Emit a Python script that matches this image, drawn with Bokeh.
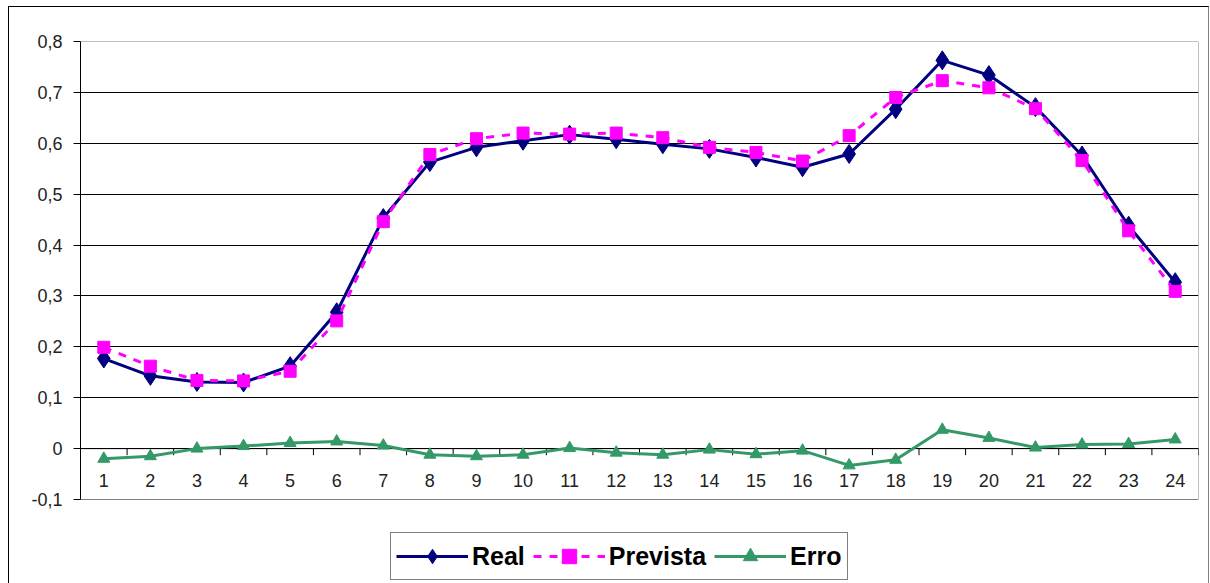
from bokeh.plotting import figure
from bokeh.models import (Range1d, FixedTicker, Legend, LegendItem,
                          ColumnDataSource)
from bokeh.core.properties import value
from bokeh.embed import file_html
from bokeh.resources import INLINE

# Hourly values (hours 1..24)
hours = list(range(1, 25))
hour_labels = [str(h) for h in hours]
real = [0.177, 0.143, 0.131, 0.130, 0.162, 0.268, 0.453, 0.563, 0.592, 0.605,
        0.617, 0.608, 0.598, 0.589, 0.572, 0.553, 0.579, 0.667, 0.763, 0.734,
        0.671, 0.576, 0.438, 0.327]
prevista = [0.199, 0.162, 0.134, 0.133, 0.152, 0.251, 0.446, 0.578, 0.609, 0.620,
            0.618, 0.620, 0.611, 0.592, 0.582, 0.565, 0.615, 0.690, 0.723, 0.709,
            0.668, 0.566, 0.428, 0.309]
erro = [-0.020, -0.015, 0.000, 0.005, 0.011, 0.014, 0.006, -0.012, -0.015, -0.012,
        0.001, -0.008, -0.012, -0.002, -0.011, -0.004, -0.033, -0.022, 0.037, 0.021,
        0.002, 0.008, 0.009, 0.018]
y_ticks = [-0.1, 0.0, 0.1, 0.2, 0.3, 0.4, 0.5, 0.6, 0.7, 0.8]
y_tick_labels = ["-0,1", "0", "0,1", "0,2", "0,3", "0,4", "0,5", "0,6", "0,7", "0,8"]

NAVY = "#000080"
MAGENTA = "#FF00FF"
GREEN = "#339966"
FONT = "Liberation Sans"

# canvas geometry: the frame runs down to the bottom edge so the legend
# can sit below the plotting area inside it
W, H = 1201, 577
TOP, LEFT, RIGHT = 34, 71, 12
PLOT_PX = 458                      # height of the -0.1 .. 0.8 band
y_lo, y_hi = y_ticks[0], y_ticks[-1]
per_px = (y_hi - y_lo) / PLOT_PX
y_start = y_hi - (H - TOP) * per_px

p = figure(width=W, height=H, output_backend="svg", toolbar_location=None,
           x_range=Range1d(0.5, 24.5), y_range=Range1d(y_start, y_hi),
           x_axis_location=None, min_border_left=LEFT, min_border_right=RIGHT,
           min_border_top=TOP, min_border_bottom=0)
p.margin = (6, 0, 0, 8)
p.styles = {"border-left": "1px solid black", "border-top": "1px solid black",
            "border-right": "1px solid #808080"}
p.background_fill_color = "white"
p.border_fill_color = "white"
p.outline_line_color = None

# plotting-area box
p.quad(left=[0.5], right=[24.5], bottom=[y_lo], top=[y_hi],
       fill_color=None, line_color="#808080", line_width=1)

# y axis
p.yaxis.bounds = (y_lo, y_hi)
p.yaxis.ticker = FixedTicker(ticks=y_ticks)
p.yaxis.major_label_overrides = dict(zip(y_ticks, y_tick_labels))
p.yaxis.axis_line_color = "black"
p.yaxis.major_tick_line_color = "black"
p.yaxis.major_tick_in = 0
p.yaxis.major_tick_out = 7
p.yaxis.minor_tick_line_color = None
p.yaxis.major_label_standoff = 11
p.yaxis.major_label_text_font = FONT
p.yaxis.major_label_text_font_size = "18px"
p.yaxis.major_label_text_color = "#222222"

# horizontal grid
p.xgrid.grid_line_color = None
p.ygrid.ticker = FixedTicker(ticks=[t for t in y_ticks if y_lo < t < y_hi])
p.ygrid.grid_line_color = "black"
p.ygrid.grid_line_width = 1

# category axis drawn along y = 0
p.segment(x0=[0.5], y0=[0], x1=[24.5], y1=[0], line_color="black", line_width=1)
bounds = [h - 0.5 for h in hours] + [hours[-1] + 0.5]
p.segment(x0=bounds, y0=[0] * len(bounds), x1=bounds, y1=[-0.013] * len(bounds),
          line_color="black", line_width=1)
p.text(x=hours, y=[-0.062] * len(hours), text=hour_labels,
       text_font=value(FONT), text_font_size="18px", text_color="#222222",
       text_align="center", text_baseline="middle")

src = ColumnDataSource(dict(h=hours, real=real, prev=prevista, erro=erro))

r_line = p.line("h", "real", source=src, line_color=NAVY, line_width=3)
r_mk = p.scatter("h", "real", source=src, marker="diamond", size=19,
                 fill_color=NAVY, line_color=NAVY)

p_line = p.line("h", "prev", source=src, line_color=MAGENTA, line_width=3,
                line_dash="8 8")
p_mk = p.scatter("h", "prev", source=src, marker="square", size=12,
                 fill_color=MAGENTA, line_color=MAGENTA)

e_line = p.line("h", "erro", source=src, line_color=GREEN, line_width=3)
e_mk = p.scatter("h", "erro", source=src, marker="triangle", size=12,
                 fill_color=GREEN, line_color=GREEN)

legend = Legend(items=[
    LegendItem(label="Real", renderers=[r_line, r_mk]),
    LegendItem(label="Prevista", renderers=[p_line, p_mk]),
    LegendItem(label="Erro", renderers=[e_line, e_mk]),
], orientation="horizontal", location=(310, 4))
legend.label_text_font = FONT
legend.label_text_font_size = "25px"
legend.label_text_font_style = "bold"
legend.label_text_color = "black"
legend.glyph_width = 72
legend.glyph_height = 36
legend.label_height = 36
legend.label_standoff = 4
legend.spacing = 8
legend.padding = 5
legend.margin = 0
legend.border_line_color = "black"
legend.border_line_width = 1
legend.background_fill_color = "white"
p.add_layout(legend, "center")

open("out.html", "w").write(file_html(p, INLINE))
